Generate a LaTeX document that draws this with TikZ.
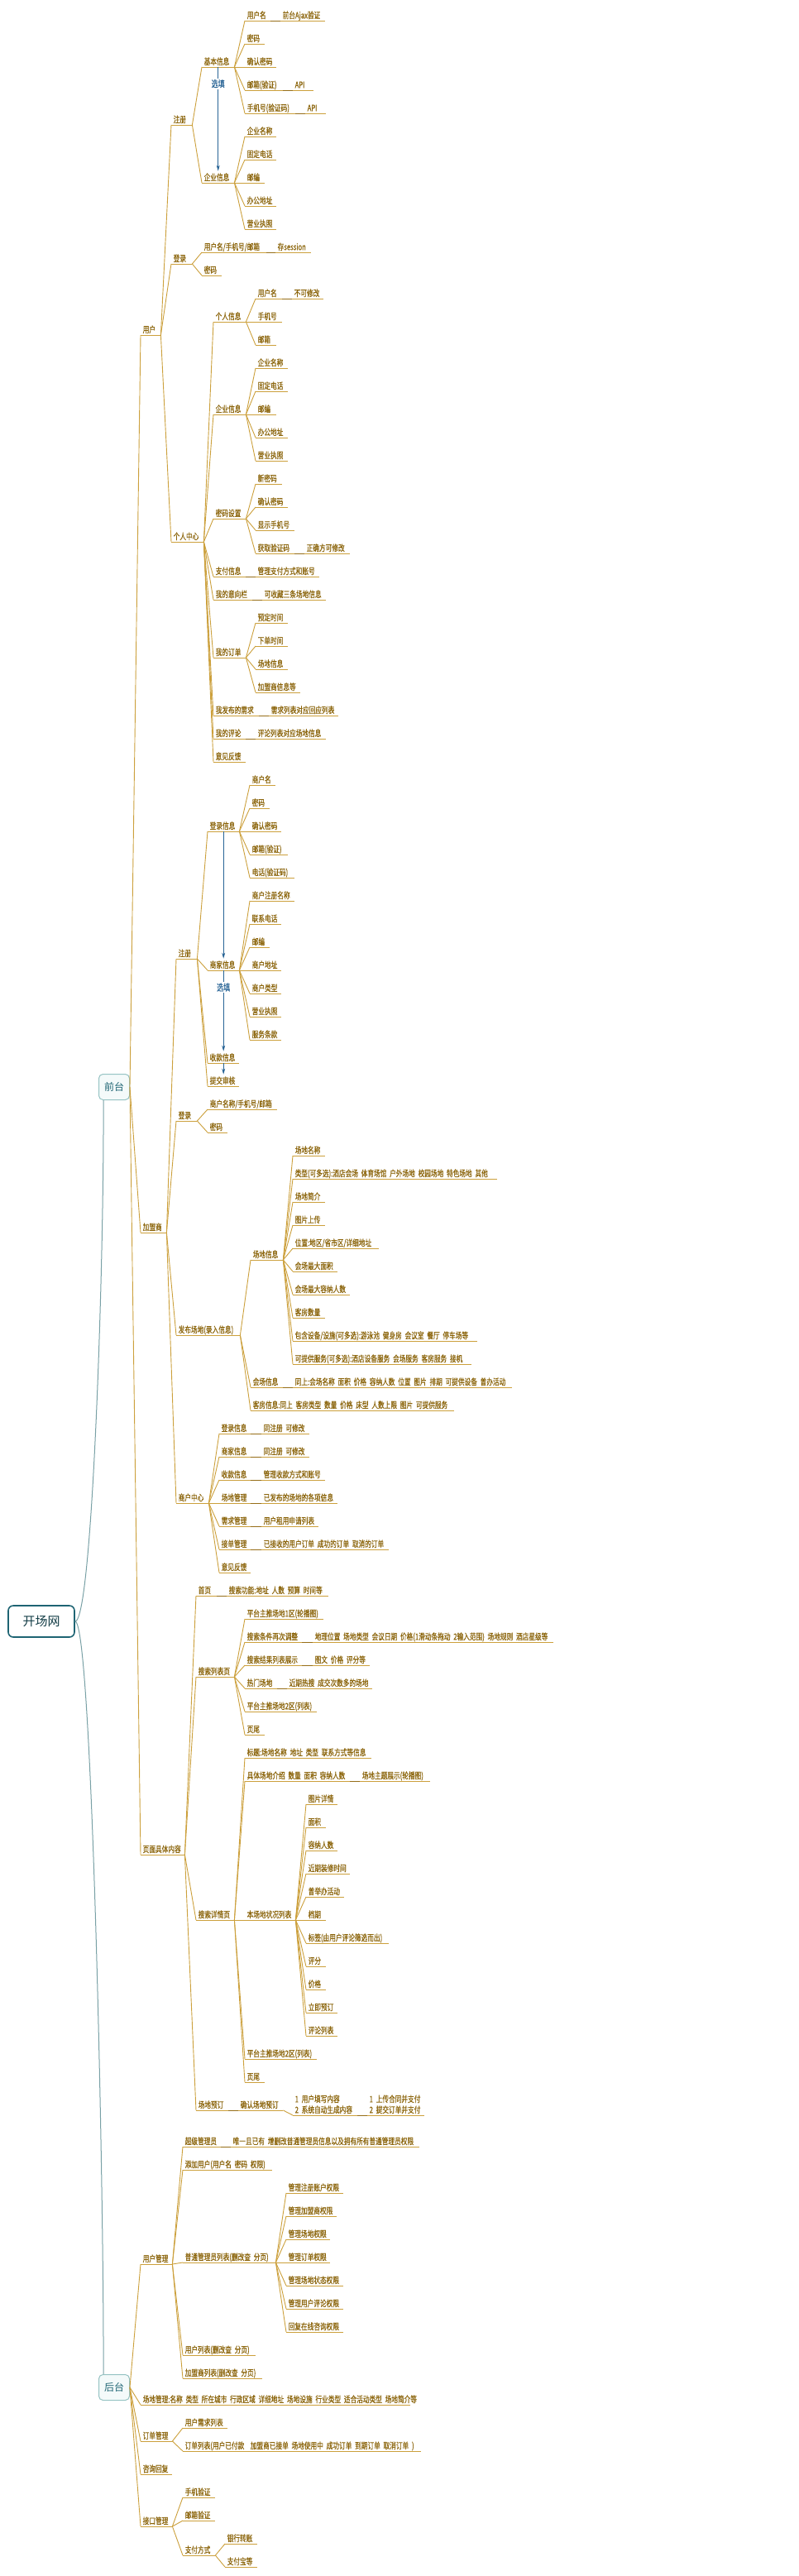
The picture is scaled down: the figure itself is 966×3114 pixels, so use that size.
\documentclass[tikz,border=0pt]{standalone}
\usepackage{fontspec}
\usetikzlibrary{arrows.meta}
\newfontfamily\cjk[FakeStretch=0.73,FakeBold=0.5,WordSpace=2.2]{Noto Sans CJK SC}
\newfontfamily\cjkn{Noto Sans CJK SC}
\definecolor{tx}{RGB}{139,100,10}
\definecolor{ln}{RGB}{204,160,60}
\definecolor{dk}{RGB}{150,110,25}
\definecolor{bl}{RGB}{40,100,150}
\definecolor{rt}{RGB}{30,100,115}
\definecolor{bx}{RGB}{150,195,195}
\definecolor{bxf}{RGB}{244,250,250}
\definecolor{rl}{RGB}{120,160,165}
\tikzset{
 itm/.style={anchor=south west, inner xsep=0pt, inner ysep=2.5pt, text depth=0pt, text=tx, font=\cjk\fontsize{10.5pt}{13pt}\selectfont},
 ul/.style={draw=ln, line width=0.9pt},
 lnk/.style={draw=ln, line width=0.9pt},
 nlk/.style={draw=dk, line width=0.9pt},
 arr/.style={draw=bl, line width=0.8pt, -{Stealth[length=7pt,width=4pt]}},
 lbl/.style={fill=white, text=bl, inner sep=1.5pt, font=\cjk\fontsize{11pt}{13pt}\selectfont},
 rootbox/.style={draw=rt, line width=1.6pt, rounded corners=6pt, fill=white, minimum width=80pt, minimum height=38pt, text=rt!60!black, font=\cjkn\fontsize{15pt}{18pt}\selectfont},
 secbox/.style={draw=bx, line width=1pt, rounded corners=5pt, fill=bxf, minimum width=37pt, minimum height=31pt, inner sep=2pt, text=rt, font=\cjkn\fontsize{12pt}{14pt}\selectfont},
 rlk/.style={draw=rl, line width=1pt},
}
\newcommand\mmi[5]{\node[itm] (#1) at (#2,#4) {\makebox[\dimexpr #3pt-#2pt\relax][l]{\hspace{2.5pt}#5}};\draw[ul] (#1.south west) -- (#1.south east);}
\newcommand\mmn[6]{\mmi{#2}{#3}{#4}{#5}{#6}\draw[nlk] (#1.south east) -- (#2.south west);}
\newcommand\mml[2]{\foreach \mmc in {#2}{\draw[lnk] (#1.south east) -- (\mmc.south west);}}
\begin{document}
\begin{tikzpicture}[x=1pt,y=-1pt]
\useasboundingbox[fill=white] (0,0) rectangle (966,3114);
% ---------- root ----------
\node[rootbox] (root) at (50,1960) {开场网};
\node[secbox] (qt) at (138,1314) {前台};
\node[secbox] (bt) at (138,2886) {后台};
\draw[rlk] (root.east) .. controls (112,1960) and (126,1520) .. ([xshift=6pt]qt.south west);
\draw[rlk] (root.east) .. controls (112,1960) and (126,2680) .. ([xshift=6pt]bt.north west);
% ---------- 用户 ----------
\mmi{u}{170}{194}{405}{用户}
\mmi{u_reg}{207}{232}{151}{注册}
\mmi{u_basic}{244}{283}{81}{基本信息}
\mmi{u_b1}{296}{327}{25}{用户名}
\mmn{u_b1}{u_b1n}{339}{393}{25}{前台Ajax验证}
\mmi{u_b2}{296}{320}{53}{密码}
\mmi{u_b3}{296}{334}{81}{确认密码}
\mmi{u_b4}{296}{342}{109}{邮箱(验证)}
\mmn{u_b4}{u_b4n}{354}{379}{109}{API}
\mmi{u_b5}{296}{357}{137}{手机号(验证码)}
\mmn{u_b5}{u_b5n}{369}{394}{137}{API}
\mmi{u_ent}{244}{283}{221}{企业信息}
\mmi{u_e1}{296}{334}{165}{企业名称}
\mmi{u_e2}{296}{334}{193}{固定电话}
\mmi{u_e3}{296}{320}{221}{邮编}
\mmi{u_e4}{296}{334}{249}{办公地址}
\mmi{u_e5}{296}{334}{277}{营业执照}
\mmi{u_log}{207}{232}{319}{登录}
\mmi{u_l1}{244}{322}{305}{用户名/手机号/邮箱}
\mmn{u_l1}{u_l1n}{333}{376}{305}{存session}
\mmi{u_l2}{244}{268}{333}{密码}
\mmi{u_pc}{207}{246}{655}{个人中心}
\mmi{u_pi}{258}{297}{389}{个人信息}
\mmi{u_pi1}{309}{341}{361}{用户名}
\mmn{u_pi1}{u_pi1n}{353}{391}{361}{不可修改}
\mmi{u_pi2}{309}{341}{389}{手机号}
\mmi{u_pi3}{309}{334}{417}{邮箱}
\mmi{u_pe}{258}{297}{501}{企业信息}
\mmi{u_pe1}{309}{348}{445}{企业名称}
\mmi{u_pe2}{309}{348}{473}{固定电话}
\mmi{u_pe3}{309}{334}{501}{邮编}
\mmi{u_pe4}{309}{348}{529}{办公地址}
\mmi{u_pe5}{309}{348}{557}{营业执照}
\mmi{u_pw}{258}{297}{627}{密码设置}
\mmi{u_pw1}{309}{341}{585}{新密码}
\mmi{u_pw2}{309}{348}{613}{确认密码}
\mmi{u_pw3}{309}{356}{641}{显示手机号}
\mmi{u_pw4}{309}{356}{669}{获取验证码}
\mmn{u_pw4}{u_pw4n}{368}{423}{669}{正确方可修改}
\mmi{u_pay}{258}{297}{697}{支付信息}
\mmn{u_pay}{u_payn}{309}{386}{697}{管理支付方式和账号}
\mmi{u_fav}{258}{305}{725}{我的意向栏}
\mmn{u_fav}{u_favn}{317}{394}{725}{可收藏三条场地信息}
\mmi{u_ord}{258}{297}{795}{我的订单}
\mmi{u_o1}{309}{348}{753}{预定时间}
\mmi{u_o2}{309}{348}{781}{下单时间}
\mmi{u_o3}{309}{348}{809}{场地信息}
\mmi{u_o4}{309}{363}{837}{加盟商信息等}
\mmi{u_req}{258}{313}{865}{我发布的需求}
\mmn{u_req}{u_reqn}{325}{409}{865}{需求列表对应回应列表}
\mmi{u_cmt}{258}{297}{893}{我的评论}
\mmn{u_cmt}{u_cmtn}{309}{394}{893}{评论列表对应场地信息}
\mmi{u_fb}{258}{297}{921}{意见反馈}
% ---------- 加盟商 ----------
\mmi{m}{170}{201}{1490}{加盟商}
\mmi{m_reg}{213}{238}{1159}{注册}
\mmi{m_li}{251}{289}{1005}{登录信息}
\mmi{m_li1}{302}{333}{949}{商户名}
\mmi{m_li2}{302}{326}{977}{密码}
\mmi{m_li3}{302}{340}{1005}{确认密码}
\mmi{m_li4}{302}{348}{1033}{邮箱(验证)}
\mmi{m_li5}{302}{356}{1061}{电话(验证码)}
\mmi{m_si}{251}{289}{1173}{商家信息}
\mmi{m_si1}{302}{356}{1089}{商户注册名称}
\mmi{m_si2}{302}{340}{1117}{联系电话}
\mmi{m_si3}{302}{326}{1145}{邮编}
\mmi{m_si4}{302}{340}{1173}{商户地址}
\mmi{m_si5}{302}{340}{1201}{商户类型}
\mmi{m_si6}{302}{340}{1229}{营业执照}
\mmi{m_si7}{302}{340}{1257}{服务条款}
\mmi{m_ri}{251}{289}{1285}{收款信息}
\mmi{m_sub}{251}{289}{1313}{提交审核}
\mmi{m_log}{213}{238}{1355}{登录}
\mmi{m_l1}{251}{335}{1341}{商户名称/手机号/邮箱}
\mmi{m_l2}{251}{275}{1369}{密码}
\mmi{m_pub}{213}{290}{1614}{发布场地(录入信息)}
\mmi{m_vi}{303}{342}{1523}{场地信息}
\mmi{m_v1}{354}{393}{1397}{场地名称}
\mmi{m_v2}{354}{601}{1425}{类型(可多选):酒店会场 体育场馆 户外场地 校园场地 特色场地 其他}
\mmi{m_v3}{354}{393}{1453}{场地简介}
\mmi{m_v4}{354}{393}{1481}{图片上传}
\mmi{m_v5}{354}{458}{1509}{位置:地区/省市区/详细地址}
\mmi{m_v6}{354}{408}{1537}{会场最大面积}
\mmi{m_v7}{354}{423}{1565}{会场最大容纳人数}
\mmi{m_v8}{354}{393}{1593}{客房数量}
\mmi{m_v9}{354}{577}{1621}{包含设备/设施(可多选):游泳池 健身房 会议室 餐厅 停车场等}
\mmi{m_v10}{354}{570}{1649}{可提供服务(可多选):酒店设备服务 会场服务 客房服务 接机}
\mmi{m_hall}{303}{342}{1677}{会场信息}
\mmn{m_hall}{m_halln}{354}{619}{1677}{同上:会场名称 面积 价格 容纳人数 位置 图片 排期 可提供设备 曾办活动}
\mmi{m_room}{303}{549}{1705}{客房信息:同上 客房类型 数量 价格 床型 人数上限 图片 可提供服务}
\mmi{m_pc}{213}{252}{1817}{商户中心}
\mmi{m_c1}{265}{303}{1733}{登录信息}
\mmn{m_c1}{m_c1n}{316}{374}{1733}{同注册 可修改}
\mmi{m_c2}{265}{303}{1761}{商家信息}
\mmn{m_c2}{m_c2n}{316}{374}{1761}{同注册 可修改}
\mmi{m_c3}{265}{303}{1789}{收款信息}
\mmn{m_c3}{m_c3n}{316}{393}{1789}{管理收款方式和账号}
\mmi{m_c4}{265}{303}{1817}{场地管理}
\mmn{m_c4}{m_c4n}{316}{408}{1817}{已发布的场地的各项信息}
\mmi{m_c5}{265}{303}{1845}{需求管理}
\mmn{m_c5}{m_c5n}{316}{385}{1845}{用户租用申请列表}
\mmi{m_c6}{265}{303}{1873}{接单管理}
\mmn{m_c6}{m_c6n}{316}{470}{1873}{已接收的用户订单 成功的订单 取消的订单}
\mmi{m_c7}{265}{303}{1901}{意见反馈}
% ---------- 页面具体内容 ----------
\mmi{p}{170}{223}{2242}{页面具体内容}
\mmi{p_home}{237}{262}{1929}{首页}
\mmn{p_home}{p_homen}{274}{397}{1929}{搜索功能:地址 人数 预算 时间等}
\mmi{p_list}{237}{283}{2027}{搜索列表页}
\mmi{p_l1}{296}{391}{1957}{平台主推场地1区(轮播图)}
\mmi{p_l2}{296}{365}{1985}{搜索条件再次调整}
\mmn{p_l2}{p_l2n}{378}{669}{1985}{地理位置 场地类型 会议日期 价格(1滑动条拖动 2输入范围) 场地规则 酒店星级等}
\mmi{p_l3}{296}{365}{2013}{搜索结果列表展示}
\mmn{p_l3}{p_l3n}{378}{447}{2013}{图文 价格 评分等}
\mmi{p_l4}{296}{335}{2041}{热门场地}
\mmn{p_l4}{p_l4n}{347}{450}{2041}{近期热搜 成交次数多的场地}
\mmi{p_l5}{296}{383}{2069}{平台主推场地2区(列表)}
\mmi{p_l6}{296}{320}{2097}{页尾}
\mmi{p_det}{237}{283}{2321}{搜索详情页}
\mmi{p_d1}{296}{449}{2125}{标题:场地名称 地址 类型 联系方式等信息}
\mmi{p_d2}{296}{423}{2153}{具体场地介绍 数量 面积 容纳人数}
\mmn{p_d2}{p_d2n}{435}{520}{2153}{场地主题展示(轮播图)}
\mmi{p_d3}{296}{357}{2321}{本场地状况列表}
\mmi{p_s1}{370}{408}{2181}{图片详情}
\mmi{p_s2}{370}{394}{2209}{面积}
\mmi{p_s3}{370}{408}{2237}{容纳人数}
\mmi{p_s4}{370}{423}{2265}{近期装修时间}
\mmi{p_s5}{370}{416}{2293}{曾举办活动}
\mmi{p_s6}{370}{394}{2321}{档期}
\mmi{p_s7}{370}{470}{2349}{标签(由用户评论筛选而出)}
\mmi{p_s8}{370}{394}{2377}{评分}
\mmi{p_s9}{370}{394}{2405}{价格}
\mmi{p_s10}{370}{408}{2433}{立即预订}
\mmi{p_s11}{370}{408}{2461}{评论列表}
\mmi{p_d4}{296}{383}{2489}{平台主推场地2区(列表)}
\mmi{p_d5}{296}{320}{2517}{页尾}
\mmi{p_bk}{237}{276}{2551}{场地预订}
\mmn{p_bk}{p_bk1}{288}{342}{2551}{确认场地预订}
\mmi{p_bk2}{354}{432}{2557}{\begin{tabular}[b]{@{}l@{}}1 用户填写内容\\2 系统自动生成内容\end{tabular}}
\draw[lnk] (p_bk1.south east) -- (p_bk2.south west);
\mmn{p_bk2}{p_bk3}{444}{513}{2557}{\begin{tabular}[b]{@{}l@{}}1 上传合同并支付\\2 提交订单并支付\end{tabular}}
% ---------- 后台 ----------
\mmi{a_um}{170}{208}{2737}{用户管理}
\mmi{a_sa}{221}{267}{2595}{超级管理员}
\mmn{a_sa}{a_san}{279}{507}{2595}{唯一且已有 增删改普通管理员信息以及拥有所有普通管理员权限}
\mmi{a_add}{221}{329}{2623}{添加用户(用户名 密码 权限)}
\mmi{a_nm}{221}{333}{2735}{普通管理员列表(删改查 分页)}
\mmi{a_n1}{346}{415}{2651}{管理注册账户权限}
\mmi{a_n2}{346}{407}{2679}{管理加盟商权限}
\mmi{a_n3}{346}{399}{2707}{管理场地权限}
\mmi{a_n4}{346}{399}{2735}{管理订单权限}
\mmi{a_n5}{346}{415}{2763}{管理场地状态权限}
\mmi{a_n6}{346}{415}{2791}{管理用户评论权限}
\mmi{a_n7}{346}{415}{2819}{回复在线咨询权限}
\mmi{a_ul}{221}{309}{2847}{用户列表(删改查 分页)}
\mmi{a_ml}{221}{317}{2875}{加盟商列表(删改查 分页)}
\mmi{a_site}{170}{496}{2907}{场地管理:名称 类型 所在城市 行政区域 详细地址 场地设施 行业类型 适合活动类型 场地简介等}
\mmi{a_om}{170}{208}{2951}{订单管理}
\mmi{a_o1}{221}{275}{2935}{用户需求列表}
\mmi{a_o2}{221}{509}{2963}{订单列表(用户已付款\ \ 加盟商已接单 场地使用中 成功订单 到期订单 取消订单 )}
\mmi{a_cs}{170}{208}{2991}{咨询回复}
\mmi{a_if}{170}{208}{3054}{接口管理}
\mmi{a_i1}{221}{260}{3019}{手机验证}
\mmi{a_i2}{221}{260}{3047}{邮箱验证}
\mmi{a_i3}{221}{260}{3089}{支付方式}
\mmi{a_i31}{272}{311}{3075}{银行转账}
\mmi{a_i32}{272}{311}{3103}{支付宝等}
% ---------- links ----------
\foreach \mmc in {u,m,p}{\draw[lnk] (qt.east) -- (\mmc.south west);}
\foreach \mmc in {a_um,a_site,a_om,a_cs,a_if}{\draw[lnk] (bt.east) -- (\mmc.south west);}
\mml{u}{u_reg,u_log,u_pc}
\mml{u_reg}{u_basic,u_ent}
\mml{u_basic}{u_b1,u_b2,u_b3,u_b4,u_b5}
\mml{u_ent}{u_e1,u_e2,u_e3,u_e4,u_e5}
\mml{u_log}{u_l1,u_l2}
\mml{u_pc}{u_pi,u_pe,u_pw,u_pay,u_fav,u_ord,u_req,u_cmt,u_fb}
\mml{u_pi}{u_pi1,u_pi2,u_pi3}
\mml{u_pe}{u_pe1,u_pe2,u_pe3,u_pe4,u_pe5}
\mml{u_pw}{u_pw1,u_pw2,u_pw3,u_pw4}
\mml{u_ord}{u_o1,u_o2,u_o3,u_o4}
\mml{m}{m_reg,m_log,m_pub,m_pc}
\mml{m_reg}{m_li,m_si,m_ri,m_sub}
\mml{m_li}{m_li1,m_li2,m_li3,m_li4,m_li5}
\mml{m_si}{m_si1,m_si2,m_si3,m_si4,m_si5,m_si6,m_si7}
\mml{m_log}{m_l1,m_l2}
\mml{m_pub}{m_vi,m_hall,m_room}
\mml{m_vi}{m_v1,m_v2,m_v3,m_v4,m_v5,m_v6,m_v7,m_v8,m_v9,m_v10}
\mml{m_pc}{m_c1,m_c2,m_c3,m_c4,m_c5,m_c6,m_c7}
\mml{p}{p_home,p_list,p_det,p_bk}
\mml{p_list}{p_l1,p_l2,p_l3,p_l4,p_l5,p_l6}
\mml{p_det}{p_d1,p_d2,p_d3,p_d4,p_d5}
\mml{p_d3}{p_s1,p_s2,p_s3,p_s4,p_s5,p_s6,p_s7,p_s8,p_s9,p_s10,p_s11}
\mml{a_um}{a_sa,a_add,a_nm,a_ul,a_ml}
\mml{a_nm}{a_n1,a_n2,a_n3,a_n4,a_n5,a_n6,a_n7}
\mml{a_om}{a_o1,a_o2}
\mml{a_if}{a_i1,a_i2,a_i3}
\mml{a_i3}{a_i31,a_i32}
% ---------- blue arrows ----------
\draw[arr] (u_basic.south) -- node[lbl,pos=0.16] (xt1) {选填} (u_ent.north);
\draw[arr] (m_li.south) -- (m_si.north);
\draw[arr] (m_si.south) -- node[lbl,pos=0.21] (xt2) {选填} (m_ri.north);
\draw[arr] (m_ri.south) -- (m_sub.north);
\end{tikzpicture}
\end{document}
